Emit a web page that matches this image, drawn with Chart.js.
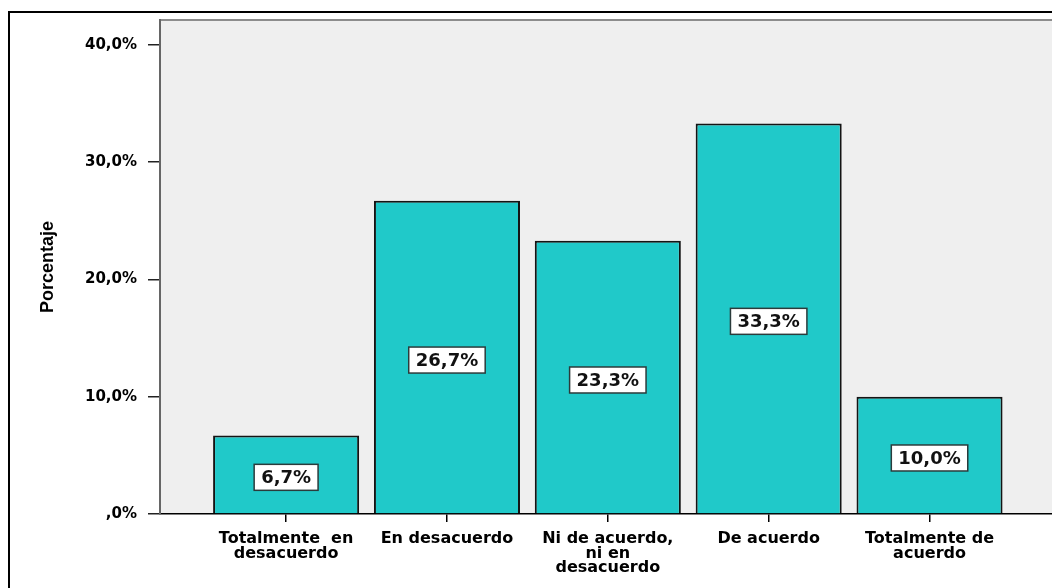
<!DOCTYPE html>
<html>
<head>
<meta charset="utf-8">
<script src="https://cdn.jsdelivr.net/npm/chart.js@4.4.1/dist/chart.umd.min.js"></script>
<style>
  html, body { margin: 0; padding: 0; background: #ffffff; overflow: hidden; }
  #wrap { position: absolute; left: 0; top: 0; width: 1070px; height: 588px; }
</style>
</head>
<body>
<div id="wrap"><canvas id="c"></canvas></div>
<script>
const categories = [
  ["Totalmente  en", "desacuerdo"],
  ["En desacuerdo"],
  ["Ni de acuerdo,", "ni en", "desacuerdo"],
  ["De acuerdo"],
  ["Totalmente de", "acuerdo"]
];
const values = [6.7, 26.7, 23.3, 33.3, 10.0];
const yTicks = [0, 10, 20, 30, 40];
const yTitle = "Porcentaje";

function fmtPct(v) {
  if (v === 0) return ",0%";
  return v.toFixed(1).replace('.', ',') + '%';
}

const framePlugin = {
  id: 'frame',
  beforeDraw(chart) {
    const ctx = chart.ctx;
    const a = chart.chartArea;
    ctx.save();
    ctx.fillStyle = '#ffffff';
    ctx.fillRect(0, 0, chart.width, chart.height);
    ctx.strokeStyle = '#000000';
    ctx.lineWidth = 2;
    ctx.strokeRect(9, 12, chart.width + 50, chart.height + 50);
    ctx.fillStyle = '#efefef';
    ctx.fillRect(a.left, a.top, a.right - a.left, a.bottom - a.top);
    ctx.strokeStyle = '#8c8c8c';
    ctx.lineWidth = 2;
    ctx.beginPath();
    ctx.moveTo(a.left, a.top);
    ctx.lineTo(a.right, a.top);
    ctx.stroke();
    ctx.restore();
  }
};

const labelPlugin = {
  id: 'barLabels',
  afterDatasetsDraw(chart) {
    const ctx = chart.ctx;
    const meta = chart.getDatasetMeta(0);
    ctx.save();
    ctx.font = 'bold 18px "DejaVu Sans"';
    ctx.textAlign = 'center';
    ctx.textBaseline = 'middle';
    meta.data.forEach((bar, i) => {
      const txt = fmtPct(values[i]);
      const cx = bar.x;
      const cy = (bar.y + bar.base) / 2 + 3;
      const w = ctx.measureText(txt).width + 14;
      const h = 26;
      ctx.fillStyle = '#ffffff';
      ctx.fillRect(cx - w / 2, cy - h / 2, w, h);
      ctx.strokeStyle = '#2b3b3b';
      ctx.lineWidth = 1.5;
      ctx.strokeRect(cx - w / 2, cy - h / 2, w, h);
      ctx.fillStyle = '#111111';
      ctx.fillText(txt, cx, cy + 1);
    });
    ctx.restore();
  }
};

new Chart(document.getElementById('c'), {
  type: 'bar',
  data: {
    datasets: [{
      data: values.map((v, i) => ({ x: i, y: v })),
      backgroundColor: '#20c9c9',
      borderColor: '#141414',
      borderWidth: 2,
      categoryPercentage: 1,
      barPercentage: 0.908
    }]
  },
  options: {
    responsive: true,
    maintainAspectRatio: false,
    animation: false,
    layout: { padding: { top: 18, right: 15, left: 0, bottom: 0 } },
    plugins: { legend: { display: false }, tooltip: { enabled: false } },
    scales: {
      x: {
        type: 'linear',
        offset: false,
        min: -0.784,
        max: 4.78,
        afterBuildTicks: s => { s.ticks = categories.map((c, i) => ({ value: i })); },
        afterFit: s => { s.height = 74; },
        ticks: {
          autoSkip: false, maxRotation: 0, minRotation: 0,
          callback: v => categories[v],
          color: '#000000',
          padding: 10,
          font: { family: 'DejaVu Sans', weight: 'bold', size: 16, lineHeight: 0.9 }
        },
        grid: { offset: false, drawOnChartArea: false, drawTicks: true, tickLength: 8, color: '#000000', lineWidth: 1.5 },
        border: { display: true, color: '#000000', width: 1.5 }
      },
      y: {
        min: 0,
        max: 42.12,
        afterBuildTicks: s => { s.ticks = yTicks.map(v => ({ value: v })); },
        afterFit: s => { s.width = 160; },
        ticks: {
          callback: v => fmtPct(v),
          color: '#000000',
          padding: 11,
          font: { family: 'DejaVu Sans', weight: 'bold', size: 15 }
        },
        grid: { drawOnChartArea: false, drawTicks: true, tickLength: 12, color: '#222222', lineWidth: 1.5 },
        border: { display: true, color: '#666666', width: 2 },
        title: {
          display: true,
          text: yTitle,
          color: '#000000',
          padding: { top: 37, bottom: 0 },
          font: { family: 'Liberation Sans', weight: 'bold', size: 18 }
        }
      }
    }
  },
  plugins: [framePlugin, labelPlugin]
});
</script>
</body>
</html>
